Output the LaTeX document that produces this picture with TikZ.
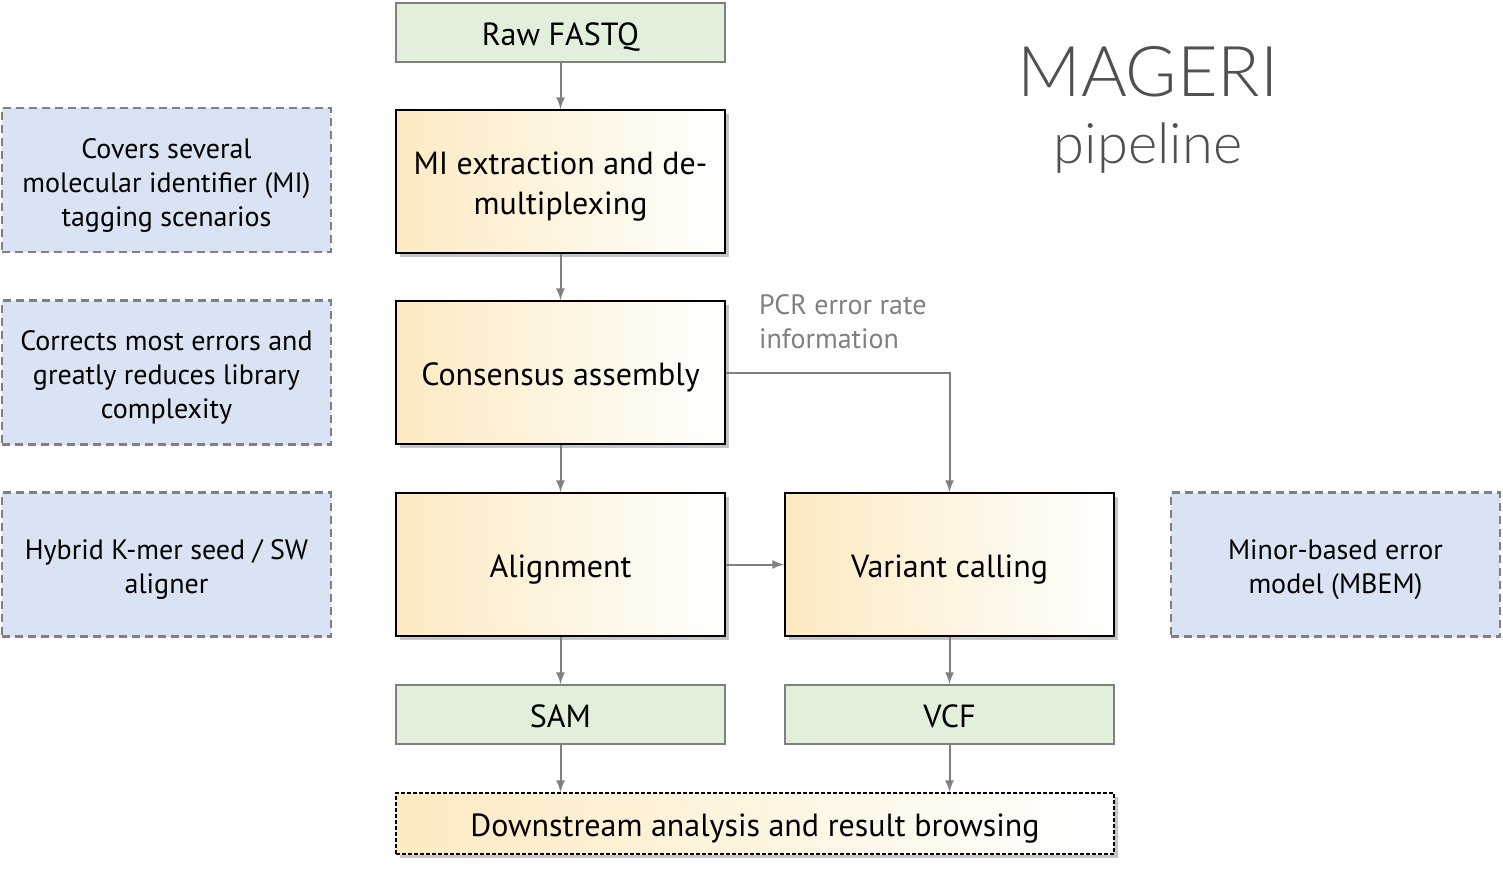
\documentclass[tikz,border=0pt]{standalone}
\usepackage{fontspec}
\setmainfont{PT Sans}
\IfFontExistsTF{Lato Light}{\newfontfamily\titlefont{Lato Light}}{\newfontfamily\titlefont{Lato}}
\usetikzlibrary{shadows,positioning}
\definecolor{filegreen}{HTML}{E2EFDA}
\definecolor{noteblue}{HTML}{DAE3F3}
\definecolor{stepor}{HTML}{FDEAC2}
\definecolor{linegray}{HTML}{808080}
\definecolor{titlegray}{HTML}{505050}
\begin{document}
\begin{tikzpicture}[>=latex,x=0.5pt,y=-0.5pt,
    file/.style={draw=linegray,line width=1pt,fill=filegreen,minimum width=164.5pt,minimum height=29.5pt,inner sep=0pt,
        text height=13pt,text depth=0pt,font=\fontsize{16}{19}\selectfont},
    stepbox/.style={draw=black,line width=1pt,left color=stepor,right color=white,minimum width=164.5pt,minimum height=71.5pt,inner sep=0pt,align=center,
        text height=13pt,text depth=0pt,drop shadow={shadow xshift=2pt,shadow yshift=-2pt,opacity=.45},font=\fontsize{16}{20}\selectfont},
    note/.style={draw=linegray,line width=1.2pt,dash pattern=on 4pt off 2.5pt,fill=noteblue,minimum width=164.5pt,minimum height=72pt,inner sep=0pt,align=center,
        text height=12pt,text depth=0pt,font=\fontsize{14}{17}\selectfont},
    arr/.style={->,draw=linegray,line width=1pt}]
\useasboundingbox (0,0) rectangle (1503,869);

% main chain
\node[file] (raw) at (560.5,32.5) {Raw FASTQ};
\node[stepbox,text height=33pt] (mi) at (560.5,181.5) {MI extraction and de-\\multiplexing};
\node[stepbox] (cons) at (560.5,372.5) {Consensus assembly};
\node[stepbox] (align) at (560.5,564.5) {Alignment};
\node[stepbox] (var) at (949.5,564.5) {Variant calling};
\node[file] (sam) at (560.5,714.5) {SAM};
\node[file] (vcf) at (949.5,714.5) {VCF};
\node[stepbox,dash pattern=on 2pt off 1pt,minimum width=359pt,minimum height=30.5pt] (down) at (755,823.5) {Downstream analysis and result browsing};

% side notes
\node[note,text height=46pt] (n1) at (166.5,180) {Covers several\\molecular identifier (MI)\\tagging scenarios};
\node[note,text height=46pt] (n2) at (166.5,372.5) {Corrects most errors and\\greatly reduces library\\complexity};
\node[note,text height=29pt] (n3) at (166.5,564.5) {Hybrid K-mer seed / SW\\aligner};
\node[note,text height=29pt] (n4) at (1335.5,564.5) {Minor-based error\\model (MBEM)};

\node[text=linegray,anchor=west,align=left,font=\fontsize{14}{17}\selectfont] (pcr) at (752,322) {PCR error rate\\information};

% title
\node[text=titlegray,font=\titlefont\fontsize{35}{40}\selectfont] (title) at (1148,72) {MAGERI};
\node[text=titlegray,font=\titlefont\fontsize{28}{32}\selectfont] (sub) at (1148,148) {pipeline};

% arrows
\draw[arr] (raw) -- (mi);
\draw[arr] (mi) -- (cons);
\draw[arr] (cons) -- (align);
\draw[arr] (cons.east) -| (var.north);
\draw[arr] (align) -- (var);
\draw[arr] (align) -- (sam);
\draw[arr] (var) -- (vcf);
\draw[arr] (sam) -- (sam |- down.north);
\draw[arr] (vcf) -- (vcf |- down.north);
\end{tikzpicture}
\end{document}
